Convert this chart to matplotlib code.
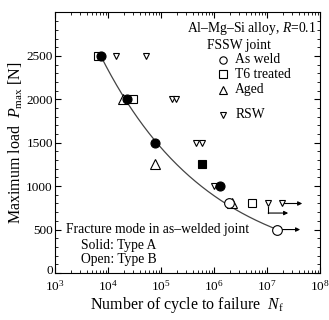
import numpy as np
import matplotlib
matplotlib.use("Agg")
import matplotlib.pyplot as plt
import matplotlib.transforms as mtransforms
from matplotlib.ticker import FixedLocator, LogLocator, NullFormatter

plt.rcParams['font.family'] = ['Liberation Serif', 'DejaVu Serif']
plt.rcParams['mathtext.fontset'] = 'custom'
plt.rcParams['mathtext.rm'] = 'Liberation Serif'
plt.rcParams['mathtext.it'] = 'Liberation Serif:italic'

# ---- data ----
asweld_solid_N = [7.3e3, 2.3e4, 7.6e4, 1.3e6]
asweld_solid_P = [2500, 2000, 1500, 1000]
asweld_open_N = [1.95e6, 1.55e7]
asweld_open_P = [800, 500]
t6_open_N = [6.6e3, 3.0e4, 5.3e6]
t6_open_P = [2500, 2000, 800]
t6_solid_N = [5.8e5]
t6_solid_P = [1250]
aged_open_N = [1.9e4, 7.6e4, 2.2e6]
aged_open_P = [2000, 1250, 800]
rsw_N = [1.4e4, 5.1e4, 1.6e5, 1.9e5, 4.5e5, 6.0e5, 9.8e5, 1.05e7, 1.9e7]
rsw_P = [2500, 2500, 2000, 2000, 1500, 1500, 1000, 800, 800]

# fitted S-N curve (power law) anchor points
fit_N = [7.3e3, 1.55e7]
fit_P = [2500, 500]

# run-out arrows: (start N, P, end N)
runout_straight = [(1.9e7, 800, 4.6e7), (1.55e7, 500, 4.2e7)]
runout_bent = (1.05e7, 800, 690, 2.5e7)

xticks = [1e3, 1e4, 1e5, 1e6, 1e7, 1e8]
yticks = [0, 500, 1000, 1500, 2000, 2500]

fig = plt.figure(figsize=(3.29, 3.20), dpi=100)
ax = fig.add_axes([0.167, 0.147, 0.806, 0.814])
ax.set_xscale('log')
ax.set_xlim(1e3, 1e8)
ax.set_ylim(0, 3000)

# fitted curve
b = np.log10(fit_P[1] / fit_P[0]) / np.log10(fit_N[1] / fit_N[0])
A = fit_P[0] / fit_N[0] ** b
Nc = np.logspace(np.log10(fit_N[0]), np.log10(fit_N[1]), 200)
ax.plot(Nc, A * Nc ** b, color='#444444', lw=0.9, zorder=1)

ms = 6.5
ax.plot(rsw_N, rsw_P, 'v', ms=4.8, mfc='white', mec='black', mew=0.8, ls='none', zorder=2)
ax.plot(aged_open_N, aged_open_P, '^', ms=ms, mfc='white', mec='black', mew=0.8, ls='none', zorder=2)
ax.plot(t6_open_N, t6_open_P, 's', ms=ms - 0.3, mfc='white', mec='black', mew=0.8, ls='none', zorder=3)
ax.plot(t6_solid_N, t6_solid_P, 's', ms=ms - 0.3, mfc='black', mec='black', mew=0.8, ls='none', zorder=3)
ax.plot(asweld_open_N, asweld_open_P, 'o', ms=ms + 0.5, mfc='white', mec='black', mew=0.8, ls='none', zorder=4)
ax.plot(asweld_solid_N, asweld_solid_P, 'o', ms=ms, mfc='black', mec='black', mew=0.8, ls='none', zorder=4)

arrow_kw = dict(arrowstyle='-|>', color='black', lw=0.8, mutation_scale=6, shrinkA=0, shrinkB=0)
for n0, p, n1 in runout_straight:
    ax.annotate('', xy=(n1, p), xytext=(n0 * 1.12, p), arrowprops=arrow_kw)
n0, p0, p1, n1 = runout_bent
ax.plot([n0, n0], [p0 - 45, p1], color='black', lw=0.8)
ax.annotate('', xy=(n1, p1), xytext=(n0, p1), arrowprops=arrow_kw)

# ticks
ax.yaxis.set_major_locator(FixedLocator(yticks))
ax.yaxis.set_minor_locator(FixedLocator(np.arange(0, 3001, 100)))
ax.xaxis.set_major_locator(FixedLocator(xticks))
ax.xaxis.set_minor_locator(LogLocator(base=10, subs=np.arange(2, 10)))
ax.xaxis.set_minor_formatter(NullFormatter())
ax.set_xticklabels([r'$10^{%d}$' % int(np.log10(v)) for v in xticks])
ax.tick_params(which='both', direction='in', top=True, right=True, labelsize=9.5)
ax.tick_params(axis='y', pad=1.5)
ax.tick_params(axis='x', pad=4.5)
ax.tick_params(which='major', length=4, width=0.8)
ax.tick_params(which='minor', length=2, width=0.6)
for s in ax.spines.values():
    s.set_linewidth(0.8)

ax.set_xlabel(r'Number of cycle to failure  $N_{\rm f}$', fontsize=11.5, labelpad=1)
ax.set_ylabel(r'Maximum load  $P_{\rm max}$ [N]', fontsize=11.5, labelpad=1)

# nudge the "0" label up a little so it doesn't collide with 10^3
fig.canvas.draw()
zero_lbl = ax.get_yticklabels()[0]
zero_lbl.set_transform(zero_lbl.get_transform() + mtransforms.ScaledTranslation(0, 2.5 / 72, fig.dpi_scale_trans))

# legend-like annotations
fs = 9.8
ax.text(0.985, 0.94, r'Al–Mg–Si alloy, $R$=0.1', transform=ax.transAxes, ha='right', va='center', fontsize=fs)
ax.text(0.575, 0.875, 'FSSW joint', transform=ax.transAxes, ha='left', va='center', fontsize=fs)
leg_items = [('o', 'As weld', 0.818), ('s', 'T6 treated', 0.762), ('^', 'Aged', 0.703), ('v', 'RSW', 0.607)]
for mk, label, yy in leg_items:
    ax.plot([0.635], [yy], mk, transform=ax.transAxes, ms=5.3 if mk != 'v' else 4.8,
            mfc='white', mec='black', mew=0.8, clip_on=False)
    ax.text(0.68, yy, label, transform=ax.transAxes, ha='left', va='center', fontsize=fs)

ax.text(0.04, 0.165, 'Fracture mode in as–welded joint', transform=ax.transAxes, ha='left', va='center', fontsize=fs)
ax.text(0.10, 0.107, 'Solid: Type A', transform=ax.transAxes, ha='left', va='center', fontsize=fs)
ax.text(0.10, 0.050, 'Open: Type B', transform=ax.transAxes, ha='left', va='center', fontsize=fs)

fig.savefig('out.png', dpi=100)
